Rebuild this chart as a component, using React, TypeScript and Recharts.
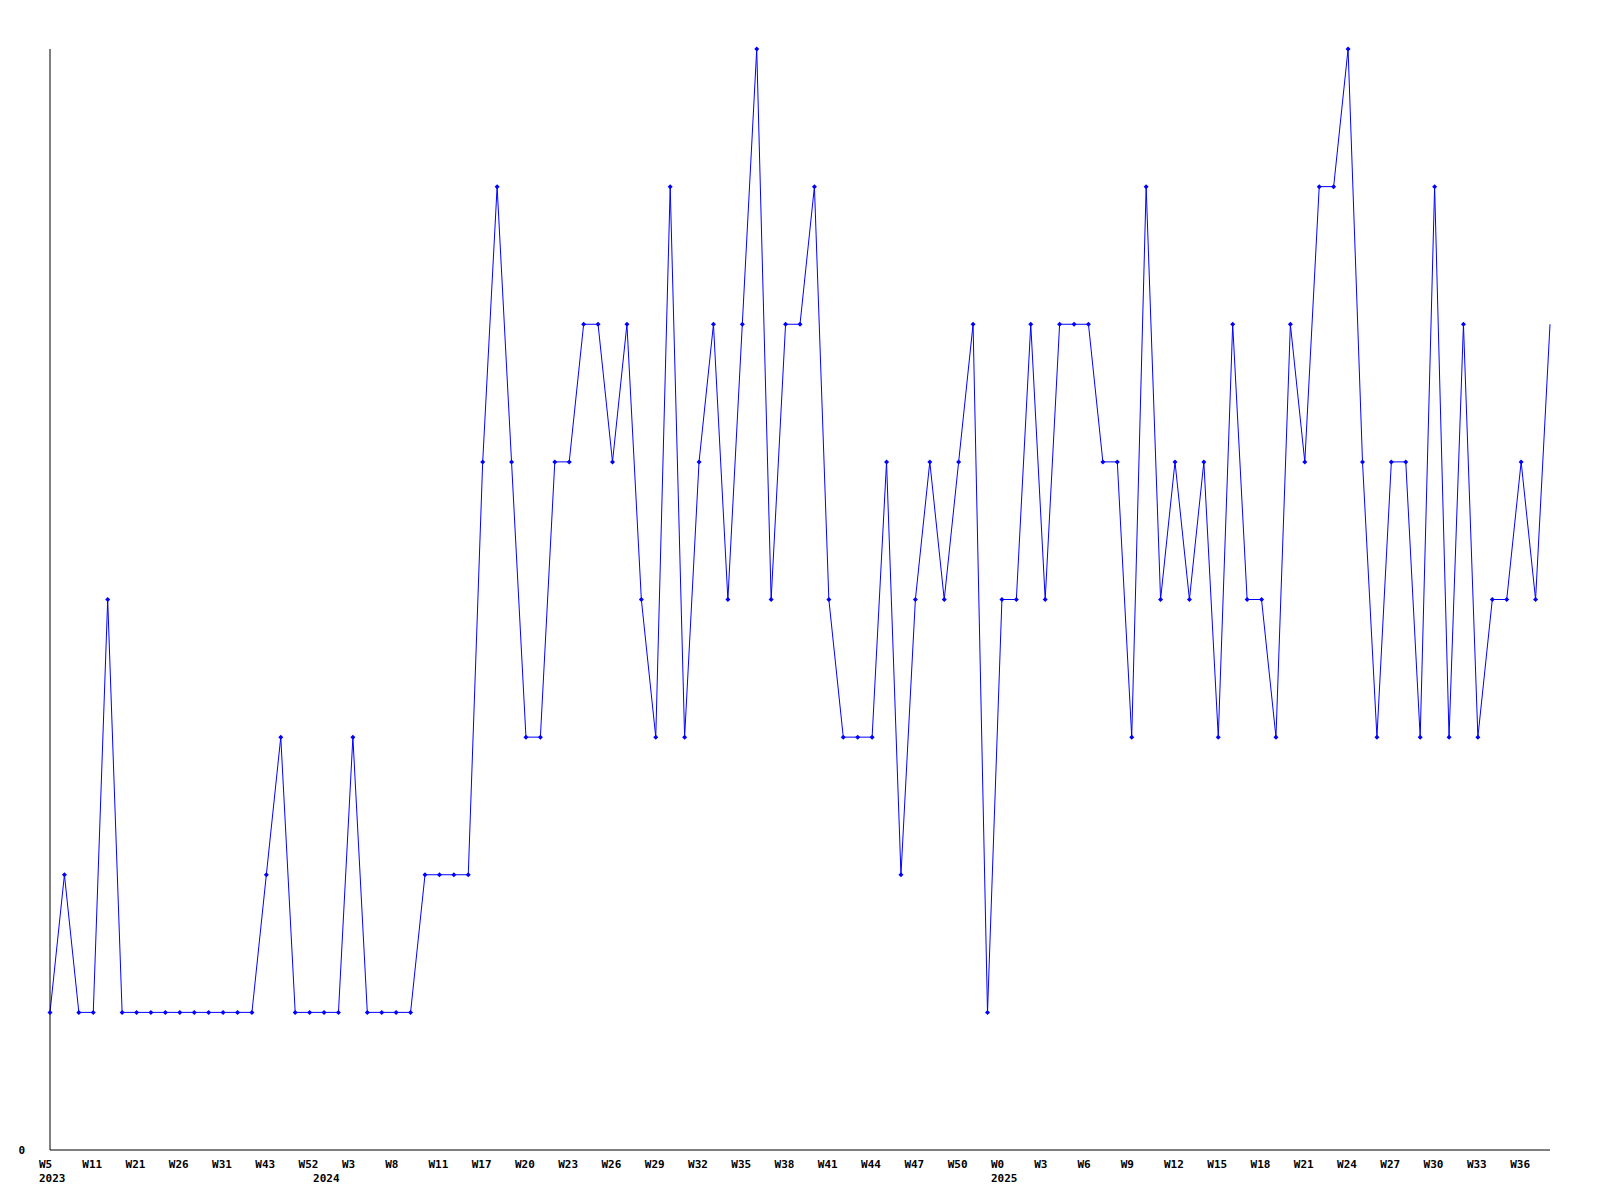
import { CartesianGrid, Line, LineChart, XAxis, YAxis } from 'recharts';

// weekly counts, one per point
const counts = [
  1, 2, 1, 1, 4, 1, 1, 1, 1, 1, 1, 1, 1, 1, 1, 2, 3, 1, 1, 1,
  1, 3, 1, 1, 1, 1, 2, 2, 2, 2, 5, 7, 5, 3, 3, 5, 5, 6, 6, 5,
  6, 4, 3, 7, 3, 5, 6, 4, 6, 8, 4, 6, 6, 7, 4, 3, 3, 3, 5, 2,
  4, 5, 4, 5, 6, 1, 4, 4, 6, 4, 6, 6, 6, 5, 5, 3, 7, 4, 5, 4,
  5, 3, 6, 4, 4, 3, 6, 5, 7, 7, 8, 5, 3, 5, 5, 3, 7, 3, 6, 3,
  4, 4, 5, 4, 6,
];

// a week label on every third point
const weekTicks = [
  'W5', 'W11', 'W21', 'W26', 'W31', 'W43', 'W52', 'W3', 'W8', 'W11', 'W17', 'W20',
  'W23', 'W26', 'W29', 'W32', 'W35', 'W38', 'W41', 'W44', 'W47', 'W50', 'W0', 'W3',
  'W6', 'W9', 'W12', 'W15', 'W18', 'W21', 'W24', 'W27', 'W30', 'W33', 'W36',
];

// point index where each year begins
const yearStarts = [0, 19, 66];
const yearLabels = ['2023', '2024', '2025'];

const BLUE = '#0000ff';
const FONT = { fontFamily: '"DejaVu Sans Mono", monospace', fontWeight: 'bold', fontSize: 11 };

const data = counts.map((value, idx) => ({ idx, value }));

function WeekTick({ x, y, payload }: { x: number; y: number; payload: { value: number } }) {
  const i = payload.value;
  const week = i % 3 === 0 ? weekTicks[i / 3] : null;
  const yi = yearStarts.indexOf(i);
  if (!week && yi < 0) return <g />;
  return (
    <g>
      {week && (
        <text x={x - 11} y={y + 16} textAnchor="start" fill="#000" {...FONT}>
          {week}
        </text>
      )}
      {yi >= 0 && (
        <text x={x - 11} y={y + 30} textAnchor="start" fill="#000" {...FONT}>
          {yearLabels[yi]}
        </text>
      )}
    </g>
  );
}

// the last point sits on the right edge and shows no marker
function Diamond({ cx, cy, index }: { cx?: number; cy?: number; index?: number }) {
  if (cx == null || cy == null || index === counts.length - 1) return <g key={index} />;
  const r = 2.5;
  return (
    <path
      key={index}
      d={`M${cx},${cy - r}L${cx + r},${cy}L${cx},${cy + r}L${cx - r},${cy}Z`}
      fill={BLUE}
    />
  );
}

export default function App() {
  return (
    <div style={{ position: 'absolute', left: 0, top: 0, background: '#fff' }}>
      <LineChart width={1600} height={1200} data={data} margin={{ top: 49, right: 50, left: 0, bottom: 0 }}>
        <CartesianGrid horizontal={false} vertical={false} />
        <XAxis
          dataKey="idx"
          type="category"
          scale="point"
          padding={{ left: 0, right: 0 }}
          interval={0}
          height={50}
          tickLine={false}
          tickSize={0}
          axisLine={{ stroke: '#000', strokeWidth: 1 }}
          tick={WeekTick}
        />
        <YAxis
          domain={[0, 8]}
          ticks={[0]}
          width={50}
          tickLine={false}
          tickSize={0}
          tickMargin={25}
          axisLine={{ stroke: '#000', strokeWidth: 1 }}
          tick={{ fill: '#000', ...FONT }}
        />
        <Line
          type="linear"
          dataKey="value"
          stroke={BLUE}
          strokeWidth={1}
          dot={Diamond}
          activeDot={false}
          isAnimationActive={false}
        />
      </LineChart>
    </div>
  );
}
